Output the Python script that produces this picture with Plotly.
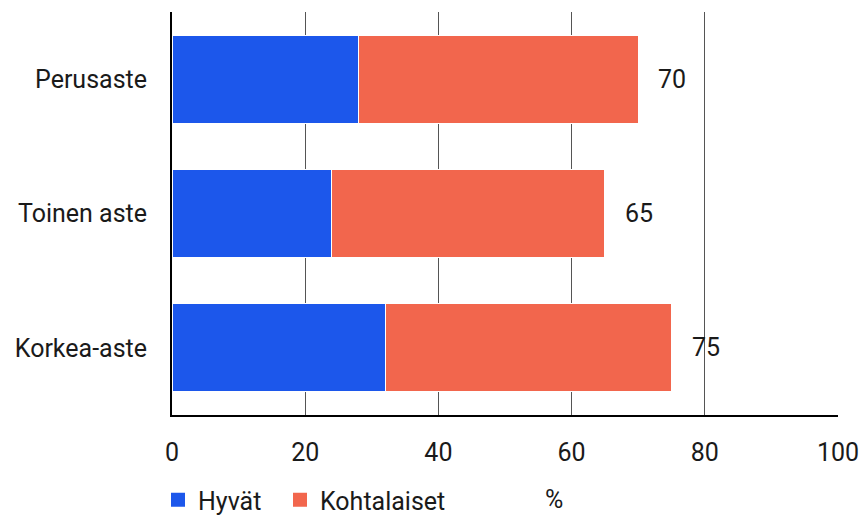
import plotly.graph_objects as go

categories = ["Perusaste", "Toinen aste", "Korkea-aste"]
hyvat = [28, 24, 32]
kohtalaiset = [42, 41, 43]
totals = [70, 65, 75]
x_ticks = [0, 20, 40, 60, 80, 100]

BLUE = "#1c57eb"
RED = "#f2664d"
FONT = "Roboto"
FS = 25

fig = go.Figure()
fig.add_trace(go.Bar(y=categories, x=hyvat, orientation="h", name="Hyvät", showlegend=False,
                     marker=dict(color=BLUE, line=dict(color="white", width=1))))
fig.add_trace(go.Bar(y=categories, x=kohtalaiset, orientation="h", name="Kohtalaiset", showlegend=False,
                     marker=dict(color=RED, line=dict(color="white", width=1))))
# legend entries with larger square markers
fig.add_trace(go.Scatter(x=[None], y=[None], mode="markers", name="Hyvät", legend="legend",
                         marker=dict(symbol="square", size=14, color=BLUE)))
fig.add_trace(go.Scatter(x=[None], y=[None], mode="markers", name="Kohtalaiset", legend="legend2",
                         marker=dict(symbol="square", size=14, color=RED)))

for c, t in zip(categories, totals):
    fig.add_annotation(x=t, y=c, text=str(t), showarrow=False, xanchor="center",
                       xshift=34, font=dict(family=FONT, size=FS, color="#1a1a1a"))

fig.add_annotation(x=(554 - 172) / 666, y=-(500 - 415) / 403, xref="paper", yref="paper", text="%",
                   showarrow=False, xanchor="center", yanchor="middle",
                   font=dict(family=FONT, size=FS, color="#1a1a1a"))

leg_common = dict(orientation="h", yref="container", xref="container", y=1 - 500 / 515,
                  yanchor="middle", xanchor="left", font=dict(family=FONT, size=FS),
                  bgcolor="rgba(0,0,0,0)")

fig.update_layout(
    width=861, height=515,
    margin=dict(l=172, r=23, t=12, b=100),
    barmode="stack", bargap=0.345,
    plot_bgcolor="white", paper_bgcolor="white",
    font=dict(family=FONT, size=FS, color="#1a1a1a"),
    legend=dict(x=158 / 861, **leg_common),
    legend2=dict(x=280 / 861, **leg_common),
    xaxis=dict(range=[0, 100], tickvals=x_ticks, showgrid=True, gridcolor="#555555",
               gridwidth=1, zeroline=False, showline=True, linecolor="black", linewidth=2,
               ticks="", ticklabelstandoff=14, fixedrange=True, automargin=False),
    yaxis=dict(categoryorder="array", categoryarray=categories, autorange="reversed",
               showline=True, linecolor="black", linewidth=2, ticks="",
               ticklabelstandoff=18, showgrid=False, automargin=False),
)

fig.write_html("out.html", config={"displayModeBar": False},
               post_script="document.body.style.margin='0';")
